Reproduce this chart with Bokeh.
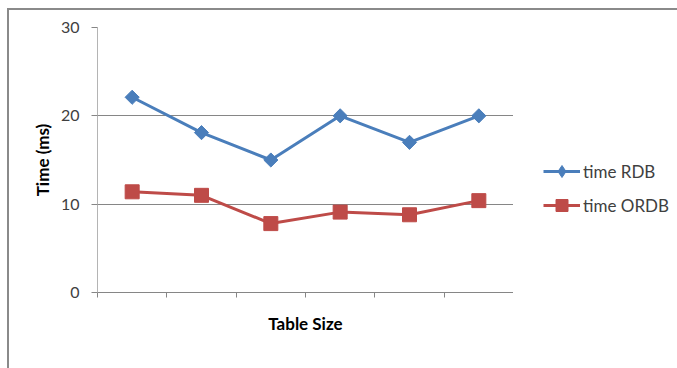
from bokeh.plotting import figure
from bokeh.layouts import row
from bokeh.models import FixedTicker, Legend, LegendItem
from bokeh.embed import file_html
from bokeh.resources import INLINE
import numpy as np

# Six table sizes (unlabelled categories) and query times in ms
table_sizes = [1, 2, 3, 4, 5, 6]
time_rdb = [22.1, 18.1, 15.0, 20.0, 17.0, 20.0]
time_ordb = [11.4, 11.0, 7.8, 9.1, 8.8, 10.4]
y_ticks = [0, 10, 20, 30]
series_names = ["time RDB", "time ORDB"]

FONT = "Lato"
TEXT = "#404040"
BLUE = "#4a7ebb"
RED = "#be4b48"

p = figure(
    width=504, height=358,
    x_range=(0.5, 6.5), y_range=(0, 30),
    output_backend="svg", toolbar_location=None,
    min_border_left=88, min_border_right=0,
    min_border_top=17, min_border_bottom=76,
)
p.outline_line_color = None
p.background_fill_color = "white"
p.border_fill_color = "white"

# grid
p.xgrid.visible = False
p.ygrid.ticker = FixedTicker(ticks=y_ticks)
p.ygrid.grid_line_color = "#868686"
p.ygrid.grid_line_width = 1

# y axis
p.yaxis.ticker = FixedTicker(ticks=y_ticks)
p.yaxis.axis_line_color = "#b4b4b4"
p.yaxis.major_tick_line_color = "#868686"
p.yaxis.major_tick_out = 6
p.yaxis.major_tick_in = 0
p.yaxis.minor_tick_line_color = None
p.yaxis.major_label_text_font = FONT
p.yaxis.major_label_text_font_size = "16px"
p.yaxis.major_label_text_color = TEXT
p.yaxis.major_label_standoff = 12
p.yaxis.axis_label = "Time (ms)"
p.yaxis.axis_label_text_font = FONT
p.yaxis.axis_label_text_font_style = "bold"
p.yaxis.axis_label_text_font_size = "17px"
p.yaxis.axis_label_text_color = "black"
p.yaxis.axis_label_standoff = 5

# x axis: category boundaries as ticks, no labels
p.xaxis.ticker = FixedTicker(ticks=[0.5, 1.5, 2.5, 3.5, 4.5, 5.5, 6.5])
p.xaxis.axis_line_color = "#868686"
p.xaxis.major_tick_line_color = "#868686"
p.xaxis.major_tick_out = 5
p.xaxis.major_tick_in = 0
p.xaxis.minor_tick_line_color = None
p.xaxis.major_label_text_font_size = "0px"
p.xaxis.major_label_standoff = 0
p.xaxis.axis_label = "Table Size"
p.xaxis.axis_label_text_font = FONT
p.xaxis.axis_label_text_font_style = "bold"
p.xaxis.axis_label_text_font_size = "17px"
p.xaxis.axis_label_text_color = "black"
p.xaxis.axis_label_standoff = 15

# series
p.line(table_sizes, time_rdb, line_color=BLUE, line_width=3)
p.scatter(table_sizes, time_rdb, marker="square", angle=np.pi / 4, size=10,
          fill_color=BLUE, line_color=BLUE)
p.line(table_sizes, time_ordb, line_color=RED, line_width=3)
p.scatter(table_sizes, time_ordb, marker="square", size=14,
          fill_color=RED, line_color=RED)

# legend panel on the right: a bare figure whose frame fills it;
# its renderers hold a single NaN row so they draw only their legend swatches
lg = figure(
    width=164, height=358, x_range=(0, 1), y_range=(0, 1),
    x_axis_type=None, y_axis_type=None,
    output_backend="svg", toolbar_location=None,
    min_border=0,
)
lg.outline_line_color = None
lg.xgrid.visible = False
lg.ygrid.visible = False
nan = [float("nan")]
k1 = lg.line(nan, nan, line_color=BLUE, line_width=3)
s1 = lg.scatter(nan, nan, marker="diamond", size=14,
                fill_color=BLUE, line_color=BLUE)
k2 = lg.line(nan, nan, line_color=RED, line_width=3)
s2 = lg.scatter(nan, nan, marker="square", size=14, fill_color=RED, line_color=RED)

legend = Legend(
    items=[LegendItem(label=series_names[0], renderers=[k1, s1]),
           LegendItem(label=series_names[1], renderers=[k2, s2])],
    location=(30, 72),
    glyph_width=37, glyph_height=30, spacing=4, label_standoff=3,
    padding=0, margin=0, border_line_color=None, background_fill_alpha=0,
    label_text_font=FONT, label_text_font_size="17px", label_text_color=TEXT,
)
lg.add_layout(legend, "center")

layout = row(p, lg)
layout.styles = {
    "margin-left": "7px", "margin-top": "8px",
    "border-left": "2px solid #8a8a8a", "border-top": "2px solid #8a8a8a",
}

open("out.html", "w").write(file_html(layout, INLINE))
